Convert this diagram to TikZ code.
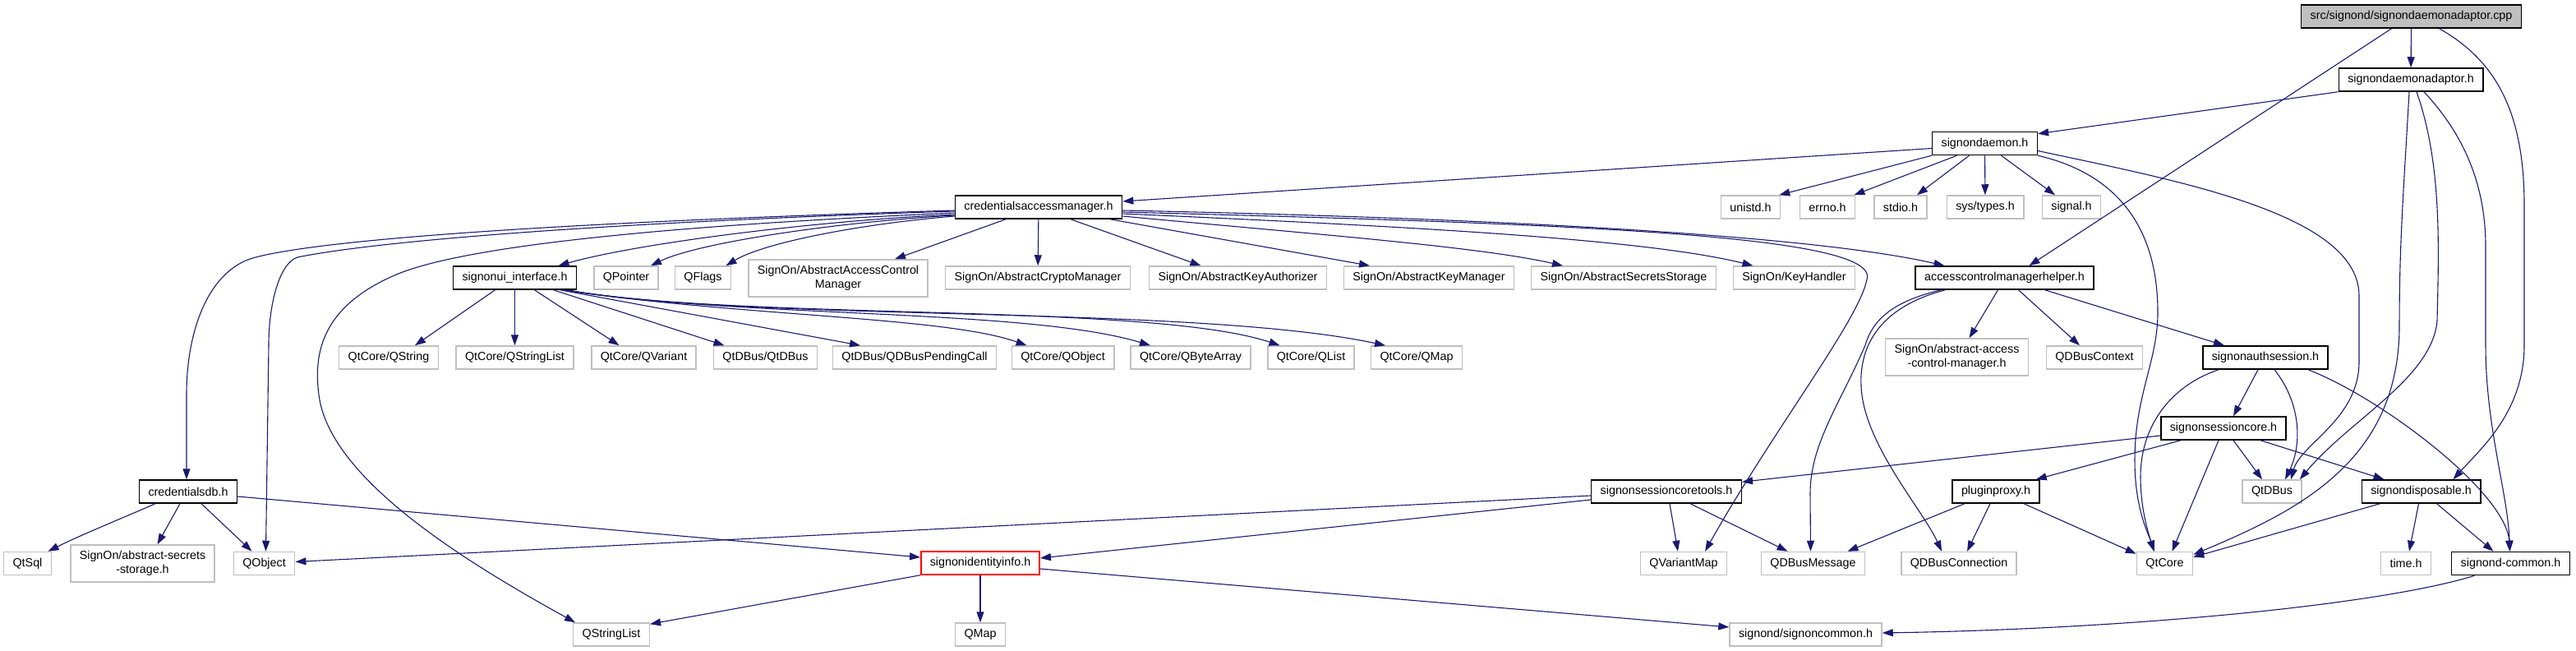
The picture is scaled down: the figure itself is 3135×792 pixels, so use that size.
\documentclass[tikz,border=0pt]{standalone}
\usepackage{fontspec}
\setmainfont{Liberation Sans}
\usepackage{tikz}
\usetikzlibrary{arrows.meta}
\definecolor{edgeblue}{HTML}{191970}
\definecolor{extgray}{HTML}{BFBFBF}
\definecolor{rootgray}{HTML}{BFBFBF}

\begin{document}
\begin{tikzpicture}[
    x=1pt, y=-1pt,
    every node/.style={font=\fontsize{14.3}{17.5}\selectfont, inner xsep=11pt,
                       inner ysep=0pt, minimum height=28pt, align=center},
    docfile/.style={rectangle, draw=black, line width=1.5pt, fill=white},
    extfile/.style={rectangle, draw=extgray, line width=1.5pt, fill=white},
    rootfile/.style={docfile, fill=rootgray},
    redfile/.style={rectangle, draw=red, line width=1.5pt, fill=white},
    arrow/.style={-{Triangle[length=13pt, width=9pt]}, draw=edgeblue, line width=1.1pt}
]
\useasboundingbox (0,0) rectangle (3135,792);

% Source file and its headers (top right)
\node[rootfile] at (2934.5,20) (root) {src/signond/signondaemonadaptor.cpp};
\node[docfile] at (2934,97) (sda) {signondaemonadaptor.h};
\node[docfile] at (2415.5,174.5) (sd) {signondaemon.h};

% Second row
\node[docfile] at (1264,252) (cam) {credentialsaccessmanager.h};
\node[extfile] at (2130.5,252) (unistd) {unistd.h};
\node[extfile] at (2224,252) (errno) {errno.h};
\node[extfile] at (2313,252) (stdio) {stdio.h};
\node[extfile] at (2416,252) (systypes) {sys/types.h};
\node[extfile] at (2521,252) (signal) {signal.h};

% Third row
\node[docfile] at (626.5,338) (sui) {signonui\_interface.h};
\node[extfile] at (762,338) (qpointer) {QPointer};
\node[extfile] at (855.5,338) (qflags) {QFlags};
\node[extfile, minimum height=45pt] at (1020,338.5) (sacm) {SignOn/AbstractAccessControl\\Manager};
\node[extfile] at (1263,338) (scrypto) {SignOn/AbstractCryptoManager};
\node[extfile] at (1506.5,338) (skeyauth) {SignOn/AbstractKeyAuthorizer};
\node[extfile] at (1739,338) (skeymgr) {SignOn/AbstractKeyManager};
\node[extfile] at (1976,338) (ssecrets) {SignOn/AbstractSecretsStorage};
\node[extfile] at (2183.5,338) (skeyh) {SignOn/KeyHandler};
\node[docfile] at (2439.5,338) (acmh) {accesscontrolmanagerhelper.h};

% Fourth row
\node[extfile] at (473,435) (qcstring) {QtCore/QString};
\node[extfile] at (626.5,435) (qcstringlist) {QtCore/QStringList};
\node[extfile] at (783.5,435) (qcvariant) {QtCore/QVariant};
\node[extfile] at (931.5,435) (qdqtdbus) {QtDBus/QtDBus};
\node[extfile] at (1113,435) (qdpending) {QtDBus/QDBusPendingCall};
\node[extfile] at (1293.5,435) (qcobject) {QtCore/QObject};
\node[extfile] at (1449,435) (qcbytearray) {QtCore/QByteArray};
\node[extfile] at (1595.5,435) (qclist) {QtCore/QList};
\node[extfile] at (1724,435) (qcmap) {QtCore/QMap};
\node[extfile, minimum height=45pt] at (2381.5,434.5) (saacm) {SignOn/abstract-access\\-control-manager.h};
\node[extfile] at (2549,435) (qdbuscontext) {QDBusContext};
\node[docfile] at (2757,435) (sas) {signonauthsession.h};

\node[docfile] at (2706,521) (ssc) {signonsessioncore.h};

% Fifth row
\node[docfile] at (229,598) (cdb) {credentialsdb.h};
\node[docfile] at (2028,598) (ssct) {signonsessioncoretools.h};
\node[docfile] at (2429,598) (pp) {pluginproxy.h};
\node[extfile] at (2765,598) (qtdbus) {QtDBus};
\node[docfile] at (2946.5,598) (sdisp) {signondisposable.h};

% Sixth row
\node[extfile] at (33.5,685.5) (qtsql) {QtSql};
\node[extfile, minimum height=45pt] at (173.5,685.5) (sass) {SignOn/abstract-secrets\\-storage.h};
\node[extfile] at (321.5,685.5) (qobject) {QObject};
\node[redfile] at (1193,685) (sii) {signonidentityinfo.h};
\node[extfile] at (2049,685.5) (qvariantmap) {QVariantMap};
\node[extfile] at (2206.5,685.5) (qdbusmessage) {QDBusMessage};
\node[extfile] at (2384,685.5) (qdbusconn) {QDBusConnection};
\node[extfile] at (2634.5,685.5) (qtcore) {QtCore};
\node[extfile] at (2928,685.5) (timeh) {time.h};
\node[docfile] at (3055.5,685.5) (sdc) {signond-common.h};

% Bottom row
\node[extfile] at (744,772) (qstringlist) {QStringList};
\node[extfile] at (1193,772) (qmap) {QMap};
\node[extfile] at (2197.5,772) (signoncommon) {signond/signoncommon.h};

% Source file includes
\draw[arrow] (root) -- (sda);
\draw[arrow] ([xshift=-24pt]root.south) -- ([xshift=30pt]acmh.north);
\draw[arrow] ([xshift=34pt]root.south) .. controls (3040,75) and (3072,140) .. (3072,250)
    -- (3072,420) .. controls (3072,500) and (3020,545) .. ([xshift=39pt]sdisp.north);

% signondaemonadaptor.h
\draw[arrow] (sda.south west) -- ([yshift=-3pt]sd.north east);
\draw[arrow] ([xshift=-2pt]sda.south) .. controls (2924,250) and (2920,300) .. (2920,400)
    .. controls (2918,560) and (2800,620) .. ([yshift=-4pt]qtcore.north east);
\draw[arrow] ([xshift=7pt]sda.south) .. controls (2972,200) and (2968,300) .. (2966,390)
    .. controls (2960,460) and (2860,510) .. ([xshift=-3pt]qtdbus.north east);
\draw[arrow] ([xshift=16pt]sda.south) .. controls (2995,160) and (3025,220) .. (3025,300)
    -- (3025,420) .. controls (3025,520) and (3052,600) .. ([xshift=-1pt]sdc.north);

% signondaemon.h
\draw[arrow] ([yshift=-6pt]sd.west) -- ([yshift=7pt]cam.east);
\draw[arrow] (sd.south west) -- ([xshift=-2pt]unistd.north east);
\draw[arrow] ([xshift=-34pt]sd.south) -- ([xshift=-2pt]errno.north east);
\draw[arrow] ([xshift=-19pt]sd.south) -- ([xshift=20pt]stdio.north);
\draw[arrow] (sd) -- (systypes);
\draw[arrow] ([xshift=20pt]sd.south) -- ([xshift=-20pt]signal.north);
\draw[arrow] (sd.south east) .. controls (2570,210) and (2626,270) .. (2626,380)
    .. controls (2626,440) and (2598,480) .. (2598,560)
    .. controls (2598,620) and (2615,650) .. ([xshift=-13pt]qtcore.north);
\draw[arrow] ([yshift=-9pt]sd.east) .. controls (2650,220) and (2871,260) .. (2871,360)
    -- (2871,440) .. controls (2871,510) and (2800,540) .. ([xshift=23pt]qtdbus.north);

% credentialsaccessmanager.h, to the left
\draw[arrow] ([yshift=-4pt]cam.west) .. controls (700,270) and (400,290) .. (311,313)
    .. controls (255,327) and (227,400) .. (227,480) -- ([xshift=-2pt]cdb.north);
\draw[arrow] ([yshift=-5pt]cam.west) .. controls (700,272) and (450,295) .. (362,313)
    .. controls (340,320) and (327,370) .. (327,420) -- ([xshift=2pt]qobject.north);
\draw[arrow] ([yshift=-7pt]cam.west) .. controls (800,275) and (560,300) .. (480,335)
    .. controls (400,370) and (380,420) .. (388,480)
    .. controls (400,580) and (560,680) .. ([xshift=-44pt]qstringlist.north);
\draw[arrow] ([yshift=-9pt]cam.west) .. controls (1000,268) and (780,295) .. ([xshift=53pt]sui.north);
\draw[arrow] ([yshift=-10pt]cam.west) .. controls (1020,270) and (850,295) .. ([xshift=30pt]qpointer.north);
\draw[arrow] ([yshift=-11pt]cam.west) .. controls (1050,272) and (930,295) .. ([xshift=28pt]qflags.north);
\draw[arrow] ([xshift=-40pt]cam.south) -- ([xshift=69pt]sacm.north);
\draw[arrow] (cam) -- (scrypto);
\draw[arrow] ([xshift=39pt]cam.south) -- ([xshift=-45pt]skeyauth.north);
\draw[arrow] ([xshift=87pt]cam.south) -- ([xshift=-72pt]skeymgr.north);

% credentialsaccessmanager.h, to the right
\draw[arrow] ([yshift=-11pt]cam.east) .. controls (1600,285) and (1800,300) .. ([xshift=-74pt]ssecrets.north);
\draw[arrow] ([yshift=-8pt]cam.east) .. controls (1700,275) and (2000,290) .. ([xshift=-50pt]skeyh.north);
\draw[arrow] ([yshift=-4pt]cam.east) .. controls (1800,265) and (2200,285) .. ([xshift=-73pt]acmh.north);
\draw[arrow] ([yshift=-6pt]cam.east) .. controls (1900,272) and (2290,285) .. (2272,340)
    .. controls (2262,390) and (2160,520) .. ([xshift=26pt]qvariantmap.north);

% accesscontrolmanagerhelper.h
\draw[arrow] ([xshift=-8pt]acmh.south) -- ([xshift=15pt]saacm.north);
\draw[arrow] ([xshift=17pt]acmh.south) -- ([xshift=-18pt]qdbuscontext.north);
\draw[arrow] ([xshift=49pt]acmh.south) -- ([xshift=-50pt]sas.north);
\draw[arrow] ([xshift=-77pt]acmh.south) .. controls (2310,365) and (2280,385) .. (2270,420)
    .. controls (2240,490) and (2203,540) .. (2203,600) -- ([xshift=-3pt]qdbusmessage.north);
\draw[arrow] ([xshift=-72pt]acmh.south) .. controls (2300,370) and (2262,410) .. (2265,470)
    .. controls (2268,540) and (2340,620) .. ([xshift=-21pt]qdbusconn.north);

% signonauthsession.h
\draw[arrow] ([xshift=-9pt]sas.south) -- ([xshift=12pt]ssc.north);
\draw[arrow] ([xshift=11pt]sas.south) .. controls (2800,490) and (2802,540) .. ([xshift=16pt]qtdbus.north);
\draw[arrow] ([xshift=-57pt]sas.south) .. controls (2640,470) and (2605,520) .. (2605,580)
    .. controls (2605,620) and (2615,650) .. ([xshift=-13pt]qtcore.north);
\draw[arrow] ([xshift=52pt]sas.south) .. controls (2900,485) and (3050,600) .. ([xshift=-1pt]sdc.north);

% signonsessioncore.h
\draw[arrow] ([yshift=-9pt]ssc.west) -- ([yshift=-3pt]ssct.north east);
\draw[arrow] ([xshift=-52pt]ssc.south) -- ([xshift=-5pt]pp.north east);
\draw[arrow] ([xshift=-6pt]ssc.south) -- ([xshift=9pt]qtcore.north);
\draw[arrow] ([xshift=12pt]ssc.south) -- ([xshift=-12pt]qtdbus.north);
\draw[arrow] ([xshift=45pt]ssc.south) -- ([xshift=-45pt]sdisp.north);

% pluginproxy.h
\draw[arrow] ([xshift=-38pt]pp.south) -- ([xshift=42pt]qdbusmessage.north);
\draw[arrow] ([xshift=-7pt]pp.south) -- ([xshift=10pt]qdbusconn.north);
\draw[arrow] ([xshift=34pt]pp.south) -- ([yshift=-3pt]qtcore.north west);

% signondisposable.h
\draw[arrow] ([xshift=-50pt]sdisp.south) -- ([yshift=-7pt]qtcore.north east);
\draw[arrow] ([xshift=-3pt]sdisp.south) -- ([xshift=4pt]timeh.north);
\draw[arrow] ([xshift=19pt]sdisp.south) -- ([xshift=-21pt]sdc.north);

% signond-common.h
\draw[arrow] ([xshift=-44pt]sdc.south) .. controls (2900,735) and (2600,765) .. ([yshift=2pt]signoncommon.east);

% signonsessioncoretools.h
\draw[arrow] ([yshift=-5pt]ssct.west) -- ([yshift=2pt]qobject.east);
\draw[arrow] ([yshift=-10pt]ssct.west) -- ([yshift=6pt]sii.east);
\draw[arrow] ([xshift=4pt]ssct.south) -- ([xshift=-7pt]qvariantmap.north);
\draw[arrow] ([xshift=29pt]ssct.south) -- ([xshift=-31pt]qdbusmessage.north);

% signonidentityinfo.h
\draw[arrow] (sii.south west) -- ([yshift=-2pt]qstringlist.north east);
\draw[arrow] (sii) -- (qmap);
\draw[arrow] ([yshift=-7pt]sii.east) -- ([yshift=9pt]signoncommon.west);

% credentialsdb.h
\draw[arrow] ([xshift=-40pt]cdb.south) .. controls (150,630) and (100,650) .. ([xshift=25pt]qtsql.north);
\draw[arrow] ([xshift=-10pt]cdb.south) -- ([xshift=18pt]sass.north);
\draw[arrow] ([xshift=16pt]cdb.south) -- ([xshift=-15pt]qobject.north);
\draw[arrow] ([yshift=-6pt]cdb.east) -- ([yshift=7pt]sii.west);

% signonui_interface.h
\draw[arrow] ([xshift=-24pt]sui.south) -- ([xshift=32pt]qcstring.north);
\draw[arrow] (sui) -- (qcstringlist);
\draw[arrow] ([xshift=24pt]sui.south) -- ([xshift=-30pt]qcvariant.north);
\draw[arrow] ([xshift=47pt]sui.south) -- ([xshift=-50pt]qdqtdbus.north);
\draw[arrow] ([xshift=55pt]sui.south) -- ([xshift=-66pt]qdpending.north);
\draw[arrow] ([xshift=58pt]sui.south) .. controls (900,385) and (1150,385) .. ([xshift=-44pt]qcobject.north);
\draw[arrow] ([xshift=60pt]sui.south) .. controls (900,387) and (1250,375) .. ([xshift=-49pt]qcbytearray.north);
\draw[arrow] ([xshift=62pt]sui.south) .. controls (900,390) and (1400,368) .. ([xshift=-38pt]qclist.north);
\draw[arrow] ([xshift=64pt]sui.south) .. controls (900,392) and (1450,370) .. ([xshift=-38pt]qcmap.north);

\end{tikzpicture}
\end{document}
